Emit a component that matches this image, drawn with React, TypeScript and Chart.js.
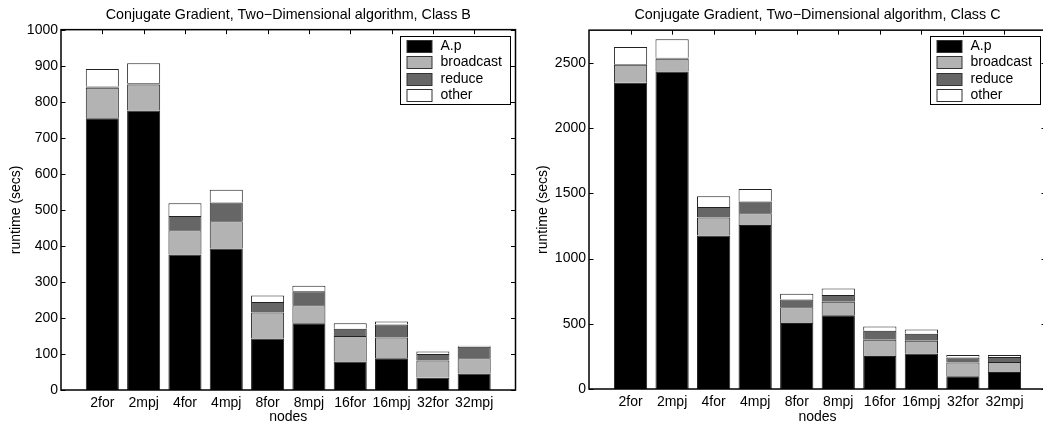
import { useEffect, useRef } from "react";
import { Chart, registerables } from "chart.js";

Chart.register(...registerables);

const categories = ["2for", "2mpj", "4for", "4mpj", "8for", "8mpj", "16for", "16mpj", "32for", "32mpj"];
const seriesNames = ["A.p", "broadcast", "reduce", "other"];
const seriesColors = ["#000000", "#b3b3b3", "#666666", "#ffffff"];

// Class B segment sizes (secs)
const classB_Ap = [754, 776, 376, 393, 143, 185, 79, 88, 34, 46];
const classB_broadcast = [85, 72, 67, 75, 72, 50, 71, 58, 48, 42];
const classB_reduce = [3, 3, 40, 52, 29, 39, 20, 36, 18, 32];
const classB_other = [49, 56, 35, 36, 18, 15, 15, 8, 7, 3];

// Class C segment sizes (secs)
const classC_Ap = [2347, 2434, 1177, 1256, 505, 566, 252, 273, 97, 130];
const classC_broadcast = [138, 97, 138, 90, 122, 102, 125, 97, 107, 76];
const classC_reduce = [5, 7, 79, 91, 59, 53, 69, 53, 38, 39];
const classC_other = [130, 143, 84, 95, 43, 49, 33, 33, 18, 15];

const yTicksB = [0, 100, 200, 300, 400, 500, 600, 700, 800, 900, 1000];
const yMaxB = 1000;
const yTicksC = [0, 500, 1000, 1500, 2000, 2500];
const yMaxC = 2750;

const FONT = "'Liberation Sans', Arial, Helvetica, sans-serif";
const FS = 14;
const TITLE_FS = 14.3;

const matlabFrame = {
  id: "matlabFrame",
  afterDraw(chart: any) {
    const { ctx, chartArea } = chart;
    const { left, right, top, bottom } = chartArea;
    const xs = chart.scales.x;
    const ys = chart.scales.y;
    const tl = 4.5;
    ctx.save();
    ctx.strokeStyle = "#000";
    ctx.lineWidth = 1;
    ctx.beginPath();
    ys.ticks.forEach((t: any) => {
      const py = Math.round(ys.getPixelForValue(t.value)) + 0.5;
      ctx.moveTo(left, py);
      ctx.lineTo(left + tl, py);
      ctx.moveTo(right, py);
      ctx.lineTo(right - tl, py);
    });
    for (let i = 1; i <= categories.length; i++) {
      const px = Math.round(xs.getPixelForValue(i)) + 0.5;
      ctx.moveTo(px, top);
      ctx.lineTo(px, top + tl);
      ctx.moveTo(px, bottom);
      ctx.lineTo(px, bottom - tl);
    }
    ctx.stroke();
    ctx.lineWidth = 1.5;
    ctx.strokeRect(left, top, right - left, bottom - top);

    // legend box inside the axes, top-right
    const lw = 110;
    const lh = 68;
    const lx = Math.round(right - 6 - lw) + 0.5;
    const ly = Math.round(top + 6) + 0.5;
    ctx.fillStyle = "#fff";
    ctx.fillRect(lx, ly, lw, lh);
    ctx.lineWidth = 1;
    ctx.strokeStyle = "#000";
    ctx.strokeRect(lx, ly, lw, lh);
    ctx.font = `${FS}px ${FONT}`;
    ctx.textBaseline = "middle";
    ctx.textAlign = "left";
    chart.data.datasets.forEach((ds: any, i: number) => {
      const cy = ly + 9 + i * 16.5;
      ctx.fillStyle = ds.backgroundColor;
      ctx.fillRect(lx + 6.5, Math.round(cy - 6) + 0.5, 25, 12);
      ctx.strokeStyle = "#333";
      ctx.strokeRect(lx + 6.5, Math.round(cy - 6) + 0.5, 25, 12);
      ctx.fillStyle = "#000";
      ctx.fillText(ds.label, lx + 40, cy + 0.5);
    });
    ctx.restore();
  },
};

function pad(arr: number[]) {
  return [null, ...arr, null];
}

function makeConfig(
  title: string,
  series: number[][],
  yMax: number,
  yTicks: number[],
  lay: { yWidth: number; xHeight: number; padRight: number; titleTop: number; titleBottom: number; yTitlePad: number; xTickPad: number }
): any {
  return {
    type: "bar",
    data: {
      labels: ["", ...categories, ""],
      datasets: series.map((s, i) => ({
        label: seriesNames[i],
        data: pad(s),
        backgroundColor: seriesColors[i],
        borderColor: "#222",
        borderWidth: 1,
        borderSkipped: "start",
        barPercentage: 0.8,
        categoryPercentage: 1,
      })),
    },
    options: {
      responsive: false,
      animation: false,
      devicePixelRatio: 1,
      layout: { padding: { left: 0, right: lay.padRight, top: 0, bottom: 0 } },
      plugins: {
        legend: { display: false },
        tooltip: { enabled: false },
        title: {
          display: true,
          text: title,
          fullSize: false,
          color: "#000",
          font: { family: FONT, size: TITLE_FS, weight: "normal" },
          padding: { top: lay.titleTop, bottom: lay.titleBottom },
        },
      },
      scales: {
        x: {
          stacked: true,
          offset: false,
          grid: { display: false, drawTicks: false },
          border: { display: false },
          ticks: {
            autoSkip: false,
            maxRotation: 0,
            minRotation: 0,
            padding: lay.xTickPad,
            color: "#000",
            font: { family: FONT, size: FS },
          },
          title: {
            display: true,
            text: "nodes",
            color: "#000",
            font: { family: FONT, size: FS },
            padding: { top: 0, bottom: -1.5 },
          },
          afterFit: (s: any) => {
            s.height = lay.xHeight;
          },
        },
        y: {
          stacked: true,
          min: 0,
          max: yMax,
          grid: { display: false, drawTicks: false },
          border: { display: false },
          afterBuildTicks: (s: any) => {
            s.ticks = yTicks.map((v) => ({ value: v }));
          },
          ticks: {
            padding: 3,
            color: "#000",
            font: { family: FONT, size: FS },
            callback: (v: any) => String(v),
          },
          title: {
            display: true,
            text: "runtime (secs)",
            color: "#000",
            font: { family: FONT, size: FS },
            padding: { top: lay.yTitlePad, bottom: 0 },
          },
          afterFit: (s: any) => {
            s.width = lay.yWidth;
          },
        },
      },
    },
    plugins: [matlabFrame],
  };
}

export default function App() {
  const leftRef = useRef<HTMLCanvasElement>(null);
  const rightRef = useRef<HTMLCanvasElement>(null);

  useEffect(() => {
    const c1 = new Chart(
      leftRef.current!,
      makeConfig(
        "Conjugate Gradient, Two\u2212Dimensional algorithm, Class B",
        [classB_Ap, classB_broadcast, classB_reduce, classB_other],
        yMaxB,
        yTicksB,
        { yWidth: 61, xHeight: 34, padRight: 1, titleTop: 6.5, titleBottom: 6.0, yTitlePad: 7.3, xTickPad: 4.5 }
      )
    );
    const c2 = new Chart(
      rightRef.current!,
      makeConfig(
        "Conjugate Gradient, Two\u2212Dimensional algorithm, Class C",
        [classC_Ap, classC_broadcast, classC_reduce, classC_other],
        yMaxC,
        yTicksC,
        { yWidth: 69, xHeight: 35, padRight: 14, titleTop: 6.5, titleBottom: 6.5, yTitlePad: 14.3, xTickPad: 4.8 }
      )
    );
    return () => {
      c1.destroy();
      c2.destroy();
    };
  }, []);

  return (
    <div style={{ position: "fixed", left: 0, top: 0, width: 1043, height: 424, overflow: "hidden", background: "#fff" }}>
      <canvas ref={leftRef} width={520} height={424} style={{ position: "absolute", left: 0, top: 0, width: 520, height: 424 }} />
      <canvas ref={rightRef} width={540} height={424} style={{ position: "absolute", left: 520, top: 0, width: 540, height: 424 }} />
    </div>
  );
}
